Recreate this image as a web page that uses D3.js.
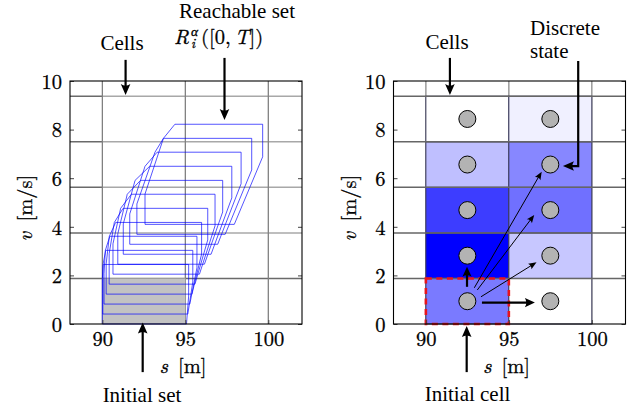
<!DOCTYPE html>
<html><head><meta charset="utf-8">
<script src="https://cdn.jsdelivr.net/npm/d3@7"></script>
<style>body{margin:0;background:#fff} svg{display:block}</style>
</head><body>
<svg id="c" width="638" height="410"></svg>
<script>
// ---------- data ----------
const xTicks = [90, 95, 100];
const yTicks = [0, 2, 4, 6, 8, 10];
const cellEdgesS = [90, 95, 100];
const cellEdgesV = [1.875, 3.75, 5.625, 7.5, 9.375];
const initS = [90, 95];
const initV = [0, 1.875];

// reachable-set polygons (one entry per time step)
const polyVb   = [0, 0.41, 0.82, 1.23, 1.64, 2.05, 2.46, 2.87, 3.28, 3.69, 4.10];
const polyVLt  = [1.25, 1.66, 2.07, 2.48, 2.89, 3.30, 3.71, 4.12, 4.53, 4.94, 5.35];
const polySBL  = [90, 90.03, 90.10, 90.23, 90.41, 90.64, 90.93, 91.26, 91.65, 92.08, 92.57];
const polySMid = [90.0, 90.04, 90.18, 90.42, 90.72, 91.1, 91.5, 91.97, 92.57, 93.17, 93.68];
const polyVMid = [1.875, 2.45, 3.03, 3.61, 4.18, 4.76, 5.34, 5.91, 6.49, 7.07, 7.64];
const polySTL  = [90.05, 90.2, 90.45, 90.8, 91.25, 91.75, 92.3, 92.85, 93.3, 93.68, 94.37];
const polyVt   = [2.45, 3.03, 3.61, 4.18, 4.76, 5.34, 5.91, 6.49, 7.07, 7.64, 8.22];
const polySTR  = [95.2, 95.45, 95.7, 95.98, 96.35, 96.79, 97.25, 97.8, 98.36, 99.0, 99.66];
const polyVR   = [1.15, 1.73, 2.31, 2.88, 3.46, 4.04, 4.61, 5.19, 5.77, 6.34, 6.88];
const polySBR  = [95.07, 95.15, 95.27, 95.4, 95.58, 95.85, 96.15, 96.55, 96.95, 97.4, 97.95];

// discrete states and occupation intensity per cell
const cellS = [90, 95];
const cellV = [0, 1.875, 3.75, 5.625, 7.5];
const cellProbCol1 = [0.52, 1.00, 0.76, 0.25, 0.00];
const cellProbCol2 = [0.00, 0.22, 0.56, 0.47, 0.06];

// transitions from the initial discrete state  [s0, v0, s1, v1]
const thinArrows  = [[92.92, 1.49, 96.98, 6.27], [93.10, 1.40, 96.53, 4.49], [93.32, 1.12, 96.67, 2.54]];
const thickArrows = [[92.48, 1.53, 92.48, 2.36], [93.38, 0.88, 96.57, 0.88]];

// ---------- layout ----------
const MATH = "Latin Modern Roman";
const TEXT = "Liberation Serif";
const svg = d3.select("#c");
const sDomain = [88.05, 102.03];
const y = d3.scaleLinear().domain([0, 10]).range([324, 81]);
const xL = d3.scaleLinear().domain(sDomain).range([70, 302]);
const xR = d3.scaleLinear().domain(sDomain).range([393.5, 625.5]);
const FS = 20.5, FA = 21;

function txt(g, x, yy, s, anchor, size, fam) {
  const t = g.append("text").attr("x", x).attr("y", yy).attr("text-anchor", anchor || "start")
    .attr("font-size", size || FA).attr("font-family", fam || TEXT).attr("fill", "#000").text(s);
  if (fam === MATH) t.attr("stroke", "#000").attr("stroke-width", 0.3);
  return t;
}

function arrow(g, pts, opt) {
  const line = d3.line();
  const n = pts.length;
  const [xa, ya] = pts[n - 2], [xb, yb] = pts[n - 1];
  const ang = Math.atan2(yb - ya, xb - xa);
  const L = opt.head, W = opt.hw;
  const bx = xb - L * Math.cos(ang), by = yb - L * Math.sin(ang);
  const p2 = pts.slice(); p2[n - 1] = [xb - (L * 0.7) * Math.cos(ang), yb - (L * 0.7) * Math.sin(ang)];
  g.append("path").attr("d", line(p2)).attr("fill", "none").attr("stroke", "#000").attr("stroke-width", opt.w);
  const nx = -Math.sin(ang), ny = Math.cos(ang);
  const inner = [xb - L * 0.72 * Math.cos(ang), yb - L * 0.72 * Math.sin(ang)];
  g.append("path")
    .attr("d", `M${xb},${yb} L${bx + nx * W},${by + ny * W} Q${inner[0]},${inner[1]} ${bx - nx * W},${by - ny * W} Z`)
    .attr("fill", "#000");
}

function frameAndAxes(g, x) {
  const [x0, x1] = x.range();
  const ay = g.append("g").attr("transform", `translate(${x0},0)`)
    .call(d3.axisLeft(y).tickValues(yTicks).tickSize(-4).tickPadding(8).tickFormat(d3.format("d")));
  ay.attr("font-family", MATH);
  ay.select(".domain").remove();
  ay.selectAll("text").attr("font-size", FS).attr("font-family", MATH).attr("dy", "0.36em")
    .attr("stroke", "#000").attr("stroke-width", 0.3);
  ay.selectAll("line").attr("stroke", "#444");
  const ay2 = g.append("g").attr("transform", `translate(${x1},0)`)
    .call(d3.axisRight(y).tickValues(yTicks).tickSize(-4).tickFormat(""));
  ay2.select(".domain").remove();
  ay2.selectAll("line").attr("stroke", "#444");
  const ax = g.append("g").attr("transform", `translate(0,${y(0)})`)
    .call(d3.axisBottom(x).tickValues(xTicks).tickSize(-4).tickPadding(7));
  ax.attr("font-family", MATH);
  ax.select(".domain").remove();
  ax.selectAll("text").attr("font-size", FS).attr("font-family", MATH)
    .attr("stroke", "#000").attr("stroke-width", 0.3);
  ax.selectAll("line").attr("stroke", "#444");
  g.append("rect").attr("x", x0).attr("y", y(10)).attr("width", x1 - x0).attr("height", y(0) - y(10))
    .attr("fill", "none").attr("stroke", "#000").attr("stroke-width", 1.1);
  const cx = (x0 + x1) / 2 - 3;
  const t = txt(g, cx, 373, "", "middle", FS, MATH);
  t.append("tspan").attr("font-style", "italic").text("s");
  t.append("tspan").text("\u2002[m]");
  const ty = g.append("text").attr("transform", `translate(${x0 - 38},${208}) rotate(-90)`)
    .attr("text-anchor", "middle").attr("font-size", FS).attr("font-family", MATH).attr("fill", "#000")
    .attr("stroke", "#000").attr("stroke-width", 0.3);
  ty.append("tspan").attr("font-style", "italic").text("v");
  ty.append("tspan").text("\u2002[m/s]");
}

// ================= LEFT PANEL =================
const gL = svg.append("g");
gL.selectAll("line.hl").data(cellEdgesV).join("line")
  .attr("x1", xL(90)).attr("x2", xL.range()[1]).attr("y1", d => y(d)).attr("y2", d => y(d))
  .attr("stroke", d => d === cellEdgesV[0] ? "#6a6a6a" : "#a8a8a8").attr("stroke-width", 1.5);
gL.selectAll("line.hd").data(cellEdgesV).join("line")
  .attr("x1", xL.range()[0]).attr("x2", xL(90)).attr("y1", d => y(d)).attr("y2", d => y(d))
  .attr("stroke", "#6a6a6a").attr("stroke-width", 1.5);
gL.selectAll("line.v").data(cellEdgesS).join("line")
  .attr("x1", d => xL(d)).attr("x2", d => xL(d)).attr("y1", y(0)).attr("y2", y(10))
  .attr("stroke", "#808080").attr("stroke-width", 1.3);
gL.append("rect").attr("x", xL(initS[0])).attr("y", y(initV[1]))
  .attr("width", xL(initS[1]) - xL(initS[0])).attr("height", y(initV[0]) - y(initV[1]))
  .attr("fill", "#c3c3c3");
const polys = polyVb.map((vb, i) => [
  [polySBL[i], vb], [polySBL[i], polyVLt[i]], [polySMid[i], polyVMid[i]],
  [polySTL[i], polyVt[i]], [polySTR[i], polyVt[i]], [polySTR[i], polyVR[i]], [polySBR[i], vb]
]);
const pl = d3.line().x(d => xL(d[0])).y(d => y(d[1])).curve(d3.curveLinearClosed);
gL.selectAll("path.poly").data(polys).join("path")
  .attr("d", pl).attr("fill", "none").attr("stroke", "#0000ff").attr("stroke-width", 0.9)
  .attr("stroke-opacity", 0.75);
frameAndAxes(gL, xL);

txt(gL, 122, 50, "Cells", "middle");
arrow(gL, [[xL(91.4), y(10.87)], [xL(91.4), y(9.42)]], {w: 2.2, head: 11, hw: 4.8});
txt(gL, 237, 17.5, "Reachable set", "middle");
(function () {
  const g = gL.append("g");
  let x = 174; const base = 44;
  const R = txt(g, x, base, "R", "start", FS, MATH).attr("font-style", "italic");
  x += R.node().getComputedTextLength() + 2;
  const a = txt(g, x, base - 8, "\u03b1", "start", 13.5, MATH).attr("font-style", "italic");
  txt(g, x, base + 4, "i", "start", 13.5, MATH).attr("font-style", "italic");
  x += a.node().getComputedTextLength() + 3;
  const t = txt(g, x, base, "", "start", FS, MATH);
  t.append("tspan").text("([0,\u2009");
  t.append("tspan").attr("font-style", "italic").text("T");
  t.append("tspan").text("])");
})();
arrow(gL, [[xL(97.36), y(10.95)], [xL(97.36), y(8.4)]], {w: 2.2, head: 11, hw: 4.8});
arrow(gL, [[xL(92.43), y(-1.98)], [xL(92.43), y(0.06)]], {w: 2.2, head: 11, hw: 4.8});
txt(gL, 142, 402, "Initial set", "middle");

// ================= RIGHT PANEL =================
const gR = svg.append("g");
const color = d3.scaleLinear().domain([0, 1]).range(["#ffffff", "#0000ff"]);
const cells = [];
cellV.forEach((v, j) => {
  cells.push({s: cellS[0], v: v, p: cellProbCol1[j]});
  cells.push({s: cellS[1], v: v, p: cellProbCol2[j]});
});
const cw = cellEdgesS[1] - cellEdgesS[0], ch = cellEdgesV[0];
gR.selectAll("line.v").data(cellEdgesS).join("line")
  .attr("x1", d => xR(d)).attr("x2", d => xR(d)).attr("y1", y(0)).attr("y2", y(10))
  .attr("stroke", "#9a9a9a").attr("stroke-width", 1.5);
gR.selectAll("rect.cell").data(cells).join("rect")
  .attr("x", d => xR(d.s)).attr("y", d => y(d.v + ch))
  .attr("width", d => xR(d.s + cw) - xR(d.s)).attr("height", d => y(d.v) - y(d.v + ch))
  .attr("fill", d => color(d.p)).attr("stroke", "#3a3a5a").attr("stroke-width", 1);
gR.selectAll("line.h").data(cellEdgesV).join("line")
  .attr("x1", xR.range()[0]).attr("x2", xR.range()[1]).attr("y1", d => y(d)).attr("y2", d => y(d))
  .attr("stroke", "#666").attr("stroke-width", 1.5);
gR.append("rect").attr("x", xR(initS[0])).attr("y", y(initV[1]))
  .attr("width", xR(initS[1]) - xR(initS[0])).attr("height", y(initV[0]) - y(initV[1]))
  .attr("fill", "none").attr("stroke", "#e8141c").attr("stroke-width", 2.6).attr("stroke-dasharray", "6,4.5");
frameAndAxes(gR, xR);
gR.selectAll("circle.st").data(cells).join("circle")
  .attr("cx", d => xR(d.s + cw / 2)).attr("cy", d => y(d.v + ch / 2)).attr("r", 8.5)
  .attr("fill", "#b3b3b3").attr("stroke", "#000").attr("stroke-width", 1);
thinArrows.forEach(a => arrow(gR, [[xR(a[0]), y(a[1])], [xR(a[2]), y(a[3])]], {w: 1, head: 8, hw: 3.2}));
thickArrows.forEach(a => arrow(gR, [[xR(a[0]), y(a[1])], [xR(a[2]), y(a[3])]], {w: 2.2, head: 10, hw: 4.6}));

txt(gR, 447, 49, "Cells", "middle");
arrow(gR, [[xR(91.45), y(10.95)], [xR(91.45), y(9.42)]], {w: 2.2, head: 11, hw: 4.8});
txt(gR, 530, 35, "Discrete");
txt(gR, 530, 58, "state");
arrow(gR, [[xR(99.18), y(10.82)], [xR(99.18), y(6.5)], [xR(98.26), y(6.5)]], {w: 2.2, head: 11, hw: 4.8});
arrow(gR, [[xR(92.46), y(-1.98)], [xR(92.46), y(-0.08)]], {w: 2.2, head: 11, hw: 4.8});
txt(gR, 467.5, 401, "Initial cell", "middle");
</script>
</body></html>
